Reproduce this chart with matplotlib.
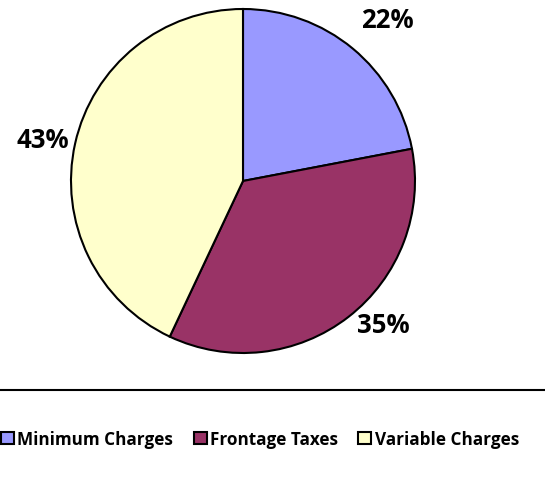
import numpy as np
import matplotlib.pyplot as plt
from matplotlib.lines import Line2D

categories = ["Minimum Charges", "Frontage Taxes", "Variable Charges"]
shares = [22, 35, 43]
colors = ["#9999FF", "#993366", "#FFFFCC"]

# label placement (radius multiple, angle in degrees) like Excel best fit
label_dist = [1.26, 1.165, 1.19]
label_ang = [48.2, -45.6, 168.2]

plt.rcParams['font.family'] = ['Open Sans', 'DejaVu Sans']

W, H = 545, 489
fig = plt.figure(figsize=(W / 100, H / 100), dpi=100)

cx, cy, r = 243, 182, 172
ax = fig.add_axes([(cx - r) / W, (H - cy - r) / H, 2 * r / W, 2 * r / H])
wedges, texts = ax.pie(shares, colors=colors, startangle=90, counterclock=False,
                       labels=[f"{s}%" for s in shares],
                       wedgeprops=dict(edgecolor="black", linewidth=1.5))
for t, d, a in zip(texts, label_dist, label_ang):
    ang = np.deg2rad(a)
    t.set_position((d * np.cos(ang), d * np.sin(ang)))
    t.set_ha("center")
    t.set_va("center")
    t.set_fontsize(18.5)
    t.set_fontweight("bold")
ax.set_xlim(-1, 1)
ax.set_ylim(-1, 1)
ax.axis("off")

fig.add_artist(Line2D([0, 1], [1 - 391 / H, 1 - 391 / H], transform=fig.transFigure,
                      color="black", linewidth=1.5))

fig.legend(wedges, categories, loc="center", bbox_to_anchor=(260 / W, 1 - 440 / H),
           ncol=3, frameon=False, handlelength=0.75, handleheight=0.75,
           handletextpad=0.2, columnspacing=1.2,
           prop=dict(size=12.3, weight="bold"))

fig.savefig("out.png", dpi=100)
